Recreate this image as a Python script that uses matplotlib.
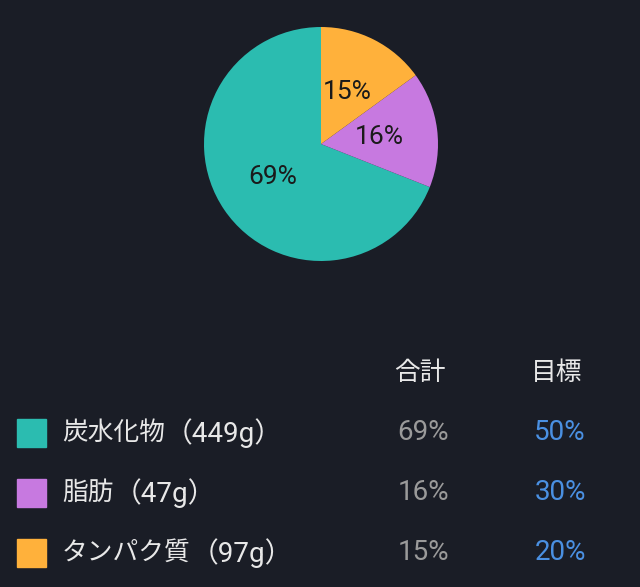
import matplotlib
matplotlib.use("Agg")
import matplotlib.pyplot as plt
from matplotlib.patches import Rectangle
from matplotlib.text import Annotation

# 数字は Roboto、漢字・かなは Noto Sans CJK JP にフォールバック
num_font = ['Roboto', 'Noto Sans CJK JP', 'DejaVu Sans']
cjk_font = ['Noto Sans CJK JP', 'DejaVu Sans']
plt.rcParams['font.family'] = num_font

# データ
names = ["炭水化物", "脂肪", "タンパク質"]
grams = [449, 47, 97]
totals = [69, 16, 15]      # 合計 (%)
targets = [50, 30, 20]     # 目標 (%)
colors = ["#2bbcb0", "#c779e0", "#ffb13b"]

bg = "#1a1d26"
W, H = 640, 587

fig = plt.figure(figsize=(W / 100, H / 100), dpi=100, facecolor=bg)

# 円グラフ (中心 321,144 / 半径 117 px)
cx, cy, r = 321, 144, 117
ax = fig.add_axes([(cx - r) / W, (H - cy - r) / H, 2 * r / W, 2 * r / H])
ax.set_facecolor(bg)
ax.pie(totals, colors=colors, startangle=90, counterclock=True,
       autopct=lambda p: f"{p:.0f}%", pctdistance=0.5,
       textprops={'fontsize': 19, 'color': '#1a1a1a'},
       wedgeprops={'linewidth': 0})
ax.set_xlim(-1, 1)
ax.set_ylim(-1, 1)
ax.axis('off')


def fy(py):
    return 1 - py / H


fs_cjk = 18.5
fs_num = 20
# 表のヘッダ
fig.text(420 / W, fy(373), "合計", ha='center', va='center', fontsize=fs_cjk,
         color='#e8e8e8', family=cjk_font)
fig.text(557 / W, fy(373), "目標", ha='center', va='center', fontsize=fs_cjk,
         color='#e8e8e8', family=cjk_font)

row_y = [433, 493, 553]
for i, name in enumerate(names):
    y = row_y[i]
    fig.patches.append(Rectangle((17 / W, fy(y + 14)), 29 / W, 28 / H,
                                 transform=fig.transFigure, color=colors[i]))
    t = fig.text(62 / W, fy(y), name, ha='left', va='center',
                 fontsize=fs_cjk, color='#e8e8e8', family=cjk_font)
    fig.add_artist(Annotation(f"（{grams[i]}g）", xy=(1, 0.5), xycoords=t,
                              ha='left', va='center', fontsize=fs_num,
                              color='#e8e8e8', family=num_font))
    fig.text(423 / W, fy(y), f"{totals[i]}%", ha='center', va='center',
             fontsize=fs_num, color='#9a9a9a')
    fig.text(560 / W, fy(y), f"{targets[i]}%", ha='center', va='center',
             fontsize=fs_num, color='#4a90e2')

fig.savefig("out.png", dpi=100, facecolor=bg)
